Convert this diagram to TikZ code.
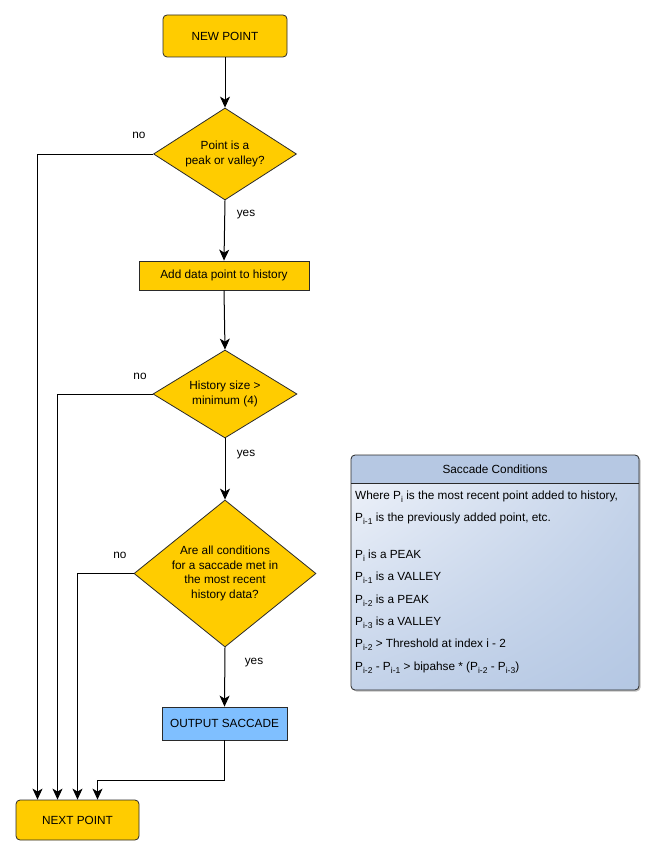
\documentclass[tikz,border=0pt]{standalone}
\usepackage{fontspec}
\setmainfont{Liberation Sans}
\usetikzlibrary{shapes.geometric,arrows.meta,calc,shadings}

\definecolor{flowyellow}{HTML}{FFCC00}
\definecolor{flowblue}{HTML}{7FBFFF}
\definecolor{edgegray}{HTML}{2A2A2A}
\definecolor{hdrblue}{HTML}{B6C8E3}
\definecolor{bodylight}{HTML}{F2F5FB}
\definecolor{bodydark}{HTML}{B4C7E3}

% subscripted P as used in the condition list
\newcommand{\Pidx}[1]{P\raisebox{-3.2pt}{\fontsize{8.5}{9}\selectfont #1}}

\tikzset{
  base/.style={draw=edgegray, line width=0.8pt, font=\fontsize{11.8}{14.5}\selectfont,
               align=center, inner sep=0pt},
  terminal/.style={base, fill=flowyellow, rounded corners=4pt},
  process/.style={base, fill=flowyellow},
  output/.style={base, fill=flowblue},
  decision/.style={base, diamond, fill=flowyellow},
  arr/.style={draw=black, line width=1pt, -{Stealth[length=11pt,width=10pt,inset=3pt]}},
  lbl/.style={font=\fontsize{11.8}{14}\selectfont, inner sep=0pt},
  cond/.style={font=\fontsize{11.8}{14}\selectfont, anchor=west, inner sep=0pt},
}

\begin{document}
\begin{tikzpicture}[x=1pt, y=-1pt]
\useasboundingbox (0,0) rectangle (655,856);

% flow nodes
\node[terminal, minimum width=124pt, minimum height=42pt] (newpt) at (225,36) {NEW POINT};
\node[decision, aspect=1.55, minimum width=143pt, minimum height=92pt] (d1) at (225,154) {Point is a\\peak or valley?};
\node[process, minimum width=170pt, minimum height=29pt] (add) at (224,275.5) {Add data point to history};
\node[decision, aspect=1.64, minimum width=144pt, minimum height=88pt] (d2) at (225,394) {History size >\\minimum (4)};
\node[decision, aspect=1.24, minimum width=182pt, minimum height=147pt] (d3) at (225,573.5)
  {Are all conditions\\for a saccade met in\\the most recent\\history data?};
\node[output, minimum width=125pt, minimum height=33pt] (out) at (224.5,723.5) {OUTPUT SACCADE};
\node[terminal, minimum width=123pt, minimum height=40pt] (next) at (77.5,820) {NEXT POINT};

% connectors
\draw[arr] (newpt.south) -- (d1.north);
\draw[arr] (d1.south) -- (add.north);
\draw[arr] (add.south) -- (d2.north);
\draw[arr] (d2.south) -- (d3.north);
\draw[arr] (d3.south) -- (out.north);
\draw[arr] (d1.west) -| ([xshift=-40pt]next.north);
\draw[arr] (d2.west) -| ([xshift=-20pt]next.north);
\draw[arr] (d3.west) -| (next.north);
\coordinate (join) at (97.5,780);
\draw[arr] (out.south) |- (join) -- (join |- next.north);

% branch labels
\node[lbl] (no1) at (139,135) {no};
\node[lbl] (yes1) at (246,215) {yes};
\node[lbl] (no2) at (140,376) {no};
\node[lbl] (yes2) at (246,455) {yes};
\node[lbl] (no3) at (120,555) {no};
\node[lbl] (yes3) at (254,663) {yes};

% saccade conditions panel
\fill[black!25, rounded corners=4pt] (352.5,456.5) rectangle (640.5,691.5);
\path[rounded corners=4pt, upper left=bodylight, upper right=bodydark!70!bodylight,
      lower left=bodydark!75!bodylight, lower right=bodydark]
  (351,455) rectangle (639,690);
\fill[hdrblue] (351,483) [rounded corners=4pt] -- (351,455) -- (639,455) [sharp corners] -- (639,483) -- cycle;
\draw[edgegray, line width=0.8pt, rounded corners=4pt] (351,455) rectangle (639,690);
\draw[edgegray, line width=0.8pt] (351,483) -- (639,483);
\node[lbl] (sachead) at (495,469) {Saccade Conditions};

\node[cond] (c1) at (355,497) {Where \Pidx{i} is the most recent point added to history,};
\node[cond] (c2) at (355,519) {\Pidx{i-1} is the previously added point, etc.};
\node[cond] (c3) at (355,556) {\Pidx{i} is a PEAK};
\node[cond] (c4) at (355,578) {\Pidx{i-1} is a VALLEY};
\node[cond] (c5) at (355,601) {\Pidx{i-2} is a PEAK};
\node[cond] (c6) at (355,623) {\Pidx{i-3} is a VALLEY};
\node[cond] (c7) at (355,645) {\Pidx{i-2} > Threshold at index i - 2};
\node[cond] (c8) at (355,668) {\Pidx{i-2} - \Pidx{i-1} > bipahse * (\Pidx{i-2} - \Pidx{i-3})};
\end{tikzpicture}
\end{document}
